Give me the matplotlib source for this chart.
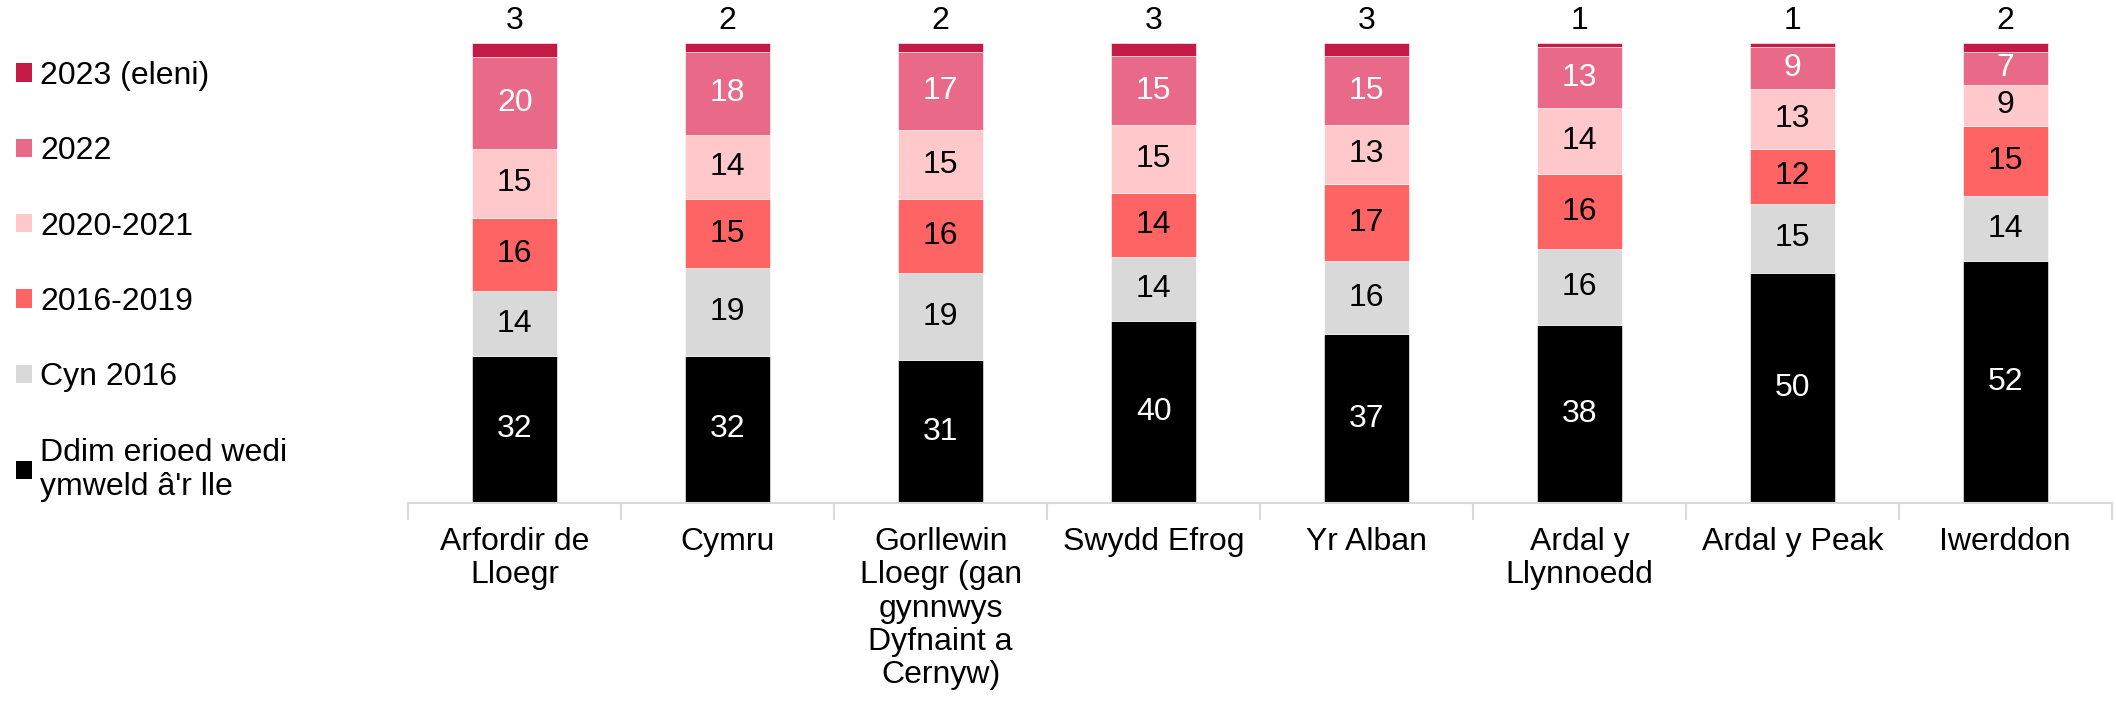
import numpy as np
import matplotlib.pyplot as plt
from matplotlib.patches import Patch

plt.rcParams['font.family'] = ['Liberation Sans', 'DejaVu Sans']

categories = ['Arfordir de\nLloegr', 'Cymru', 'Gorllewin\nLloegr (gan\ngynnwys\nDyfnaint a\nCernyw)',
              'Swydd Efrog', 'Yr Alban', 'Ardal y\nLlynnoedd', 'Ardal y Peak', 'Iwerddon']

never = [32, 32, 31, 40, 37, 38, 50, 52]
before_2016 = [14, 19, 19, 14, 16, 16, 15, 14]
y2016_2019 = [16, 15, 16, 14, 17, 16, 12, 15]
y2020_2021 = [15, 14, 15, 15, 13, 14, 13, 9]
y2022 = [20, 18, 17, 15, 15, 13, 9, 7]
y2023 = [3, 2, 2, 3, 3, 1, 1, 2]

series = [
    ("Ddim erioed wedi\nymweld â'r lle", never, '#000000', 'white'),
    ('Cyn 2016', before_2016, '#D9D9D9', 'black'),
    ('2016-2019', y2016_2019, '#FF6464', 'black'),
    ('2020-2021', y2020_2021, '#FFC9CC', 'black'),
    ('2022', y2022, '#E96A88', 'white'),
    ('2023 (eleni)', y2023, '#C41A46', None),
]

FS = 23
fig = plt.figure(figsize=(21.16, 7.06), dpi=100)
ax = fig.add_axes([0.193, 0.2875, 0.805, 0.652])

x = np.arange(len(categories))
totals = np.sum([s[1] for s in series], axis=0)
bottom = np.zeros(len(categories))
for name, vals, color, tcol in series:
    h = np.array(vals) / totals * 100
    ax.bar(x, h, 0.4, bottom=bottom, color=color, edgecolor='white', linewidth=0.4)
    for i in range(len(x)):
        if tcol is None:
            ax.text(x[i], bottom[i] + h[i] + 1.5, str(vals[i]), ha='center', va='bottom', fontsize=FS, color='black')
        else:
            ax.text(x[i], bottom[i] + h[i] / 2, str(vals[i]), ha='center', va='center', fontsize=FS, color=tcol)
    bottom += h

ax.set_xlim(-0.5, len(categories) - 0.5)
ax.set_ylim(0, 100)
ax.set_yticks([])
for s in ['top', 'right', 'left']:
    ax.spines[s].set_visible(False)
ax.spines['bottom'].set_color('#D9D9D9')
ax.spines['bottom'].set_linewidth(1.5)
ax.set_xticks(x)
ax.set_xticklabels(categories, fontsize=FS, linespacing=1.15)
ax.tick_params(axis='x', which='major', length=0, pad=17)
ax.set_xticks(np.arange(len(categories) + 1) - 0.5, minor=True)
ax.tick_params(axis='x', which='minor', length=12, color='#D9D9D9', width=1.5)

handles = [Patch(facecolor=c, label=n) for n, _, c, _ in series[::-1]]
fig.legend(handles=handles, loc='upper left', bbox_to_anchor=(0.0015, 0.932), frameon=False,
           fontsize=FS, handlelength=0.5, handleheight=0.5, handletextpad=0.25,
           labelspacing=1.42, borderaxespad=0)

fig.savefig('out.png', dpi=100)
